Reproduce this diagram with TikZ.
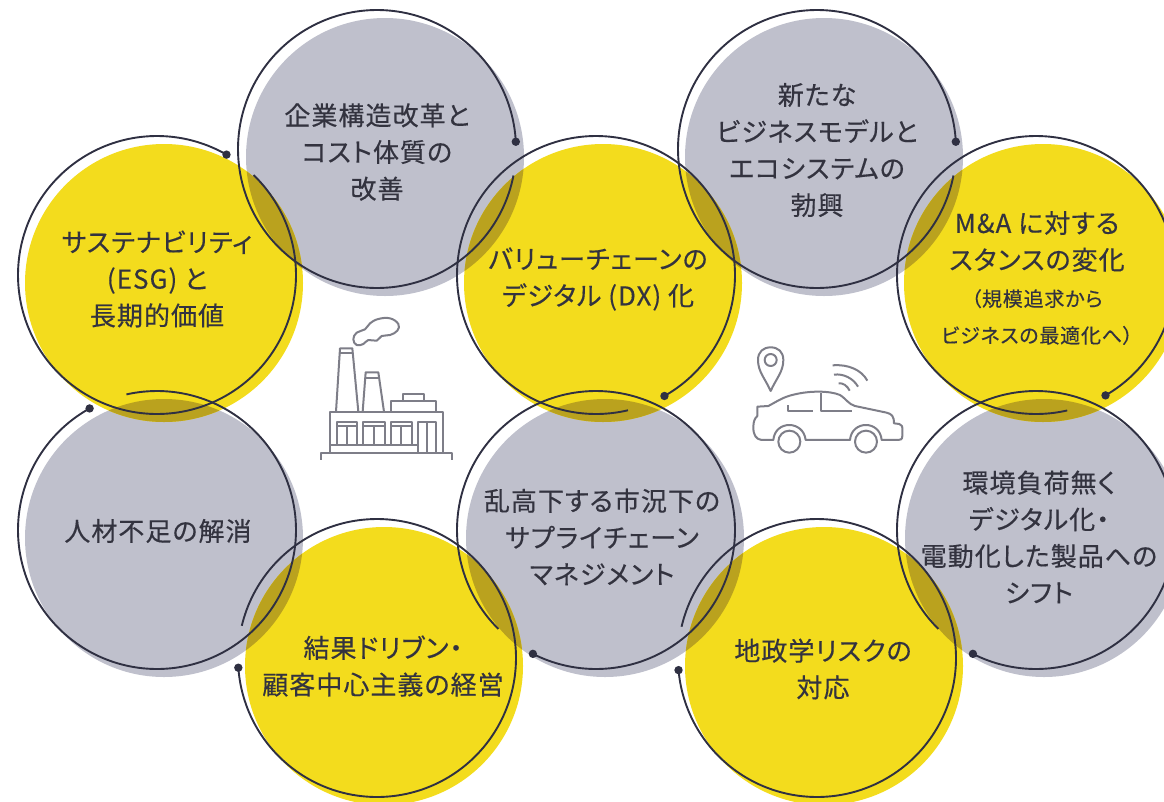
\documentclass[tikz,border=0pt]{standalone}
\usepackage{fontspec}
\setmainfont{Noto Sans CJK JP}[RawFeature=+palt,FakeBold=0.4,LetterSpace=4]
\definecolor{greyfill}{HTML}{BFC0CC}
\definecolor{yellowfill}{HTML}{F3DC1D}
\definecolor{lapfill}{HTML}{BAA21E}
\definecolor{ringline}{HTML}{2F3042}
\definecolor{iconline}{HTML}{7E7E88}
\definecolor{inktext}{HTML}{33333F}
\newcommand{\ringarc}[4]{%
  \draw[ringstroke] plot[domain=#3:#4,samples=200,smooth] ({#1+139*cos(\x)},{#2-139*sin(\x)});
  \fill[ringline] ({#1+139*cos(#3)},{#2-139*sin(#3)}) circle[radius=4.2pt];}
\newcommand{\lapzone}[2]{\begin{scope}\clip (#1) circle[radius=139pt];\fill[lapfill] (#2) circle[radius=139pt];\end{scope}}
\tikzset{
  ringstroke/.style={draw=ringline,line width=1.9pt},
  iconstroke/.style={draw=iconline,line width=2pt,line join=round},
  blurb/.style={text=inktext,align=center,inner sep=0pt,font=\fontsize{26}{36.7}\selectfont},
}
\newcommand{\smalltxt}{\fontsize{20}{36.7}\selectfont}
\begin{document}
\begin{tikzpicture}[x=1pt,y=-1pt]
\useasboundingbox (0,0) rectangle (1164,801);
\clip (0,0) rectangle (1164,801);
\coordinate (fa) at (385,157);
\coordinate (fb) at (164,283);
\coordinate (fc) at (603,283);
\coordinate (fd) at (824,157);
\coordinate (fe) at (1043,283);
\coordinate (ff) at (164,538);
\coordinate (fg) at (384,666);
\coordinate (fh) at (605,538);
\coordinate (fi) at (824,666);
\coordinate (fj) at (1044,538);
\foreach \c in {fa,fd,ff,fh,fj} \fill[greyfill] (\c) circle[radius=139pt];
\foreach \c in {fb,fc,fe,fg,fi} \fill[yellowfill] (\c) circle[radius=139pt];
\lapzone{fa}{fb}\lapzone{fa}{fc}\lapzone{fd}{fc}\lapzone{fd}{fe}
\lapzone{ff}{fb}\lapzone{ff}{fg}\lapzone{fh}{fg}\lapzone{fh}{fc}
\lapzone{fh}{fi}\lapzone{fj}{fi}\lapzone{fj}{fe}
% factory
\begin{scope}[iconstroke,shift={(310,310)},x=0.3333pt,y=-0.3333pt]
\draw (33,450) -- (33,430) -- (425,430) -- (425,450);
\draw (60,430) -- (60,305) -- (398,305) -- (398,430);
\draw (60,405) -- (325,405);
\foreach \l/\r in {80/140,160/225,243/305}{
  \draw (\l,405) -- (\l,335) -- (\r,335) -- (\r,405);
  \draw (\l,347) -- (\r,347);
  \draw ({(\l+\r)/2},347) -- ({(\l+\r)/2},405);
}
\draw (325,430) -- (325,335) -- (378,335) -- (378,430);
\draw (350,335) -- (350,430);
\draw (78,305) -- (90,115) -- (127,115) -- (145,305);
\draw (89,130) -- (128,130);
\draw (158,305) -- (167,187) -- (205,187) -- (222,305);
\draw (166,203) -- (207,203);
\draw (242,305) -- (242,272) -- (378,272) -- (378,305);
\draw (278,272) -- (278,252) -- (342,252) -- (342,272);
\draw plot[smooth cycle,tension=0.7] coordinates {(130,88) (140,68) (165,58) (180,40) (205,27) (240,25) (265,42) (262,62) (240,75) (215,78) (200,92) (175,90) (160,102) (140,105)};
\end{scope}
% car
\begin{scope}[iconstroke,shift={(740,340)},x=0.3333pt,y=-0.3333pt]
\draw (92,60) circle[radius=6pt];
\draw (92,153) .. controls (75,115) and (54,95) .. (54,60) .. controls (54,35) and (70,22) .. (92,22) .. controls (114,22) and (130,35) .. (130,60) .. controls (130,95) and (109,115) .. (92,153) -- cycle;
\draw (278,76) .. controls (325,72) and (365,90) .. (382,122);
\draw (282,104) .. controls (310,100) and (340,115) .. (354,140);
\draw (296,130) .. controls (310,128) and (322,138) .. (329,152);
\draw (52,200) -- (85,198) .. controls (110,185) and (130,170) .. (165,163) .. controls (210,152) and (270,152) .. (300,165) .. controls (320,178) and (325,192) .. (345,198) -- (440,218) .. controls (455,222) and (462,228) .. (462,250) -- (478,252) .. controls (487,254) and (487,260) .. (487,270) -- (487,288) .. controls (487,298) and (482,300) .. (475,300) -- (425,300) .. controls (420,240) and (335,240) .. (330,300) -- (197,300) .. controls (190,240) and (105,240) .. (100,300) -- (65,300) .. controls (48,298) and (40,285) .. (40,262) .. controls (40,245) and (44,235) .. (52,228) -- cycle;
\draw (143,195) -- (143,212) -- (220,212);
\draw (243,160) -- (243,212) -- (335,212);
\draw (148,305) circle[radius=11pt];
\draw (378,305) circle[radius=11pt];
\end{scope}
% rings
\ringarc{377}{149}{3}{349}
\ringarc{157}{275}{60}{406}
\ringarc{596}{275}{-60.5}{283.3}
\ringarc{817}{149}{3}{349}
\ringarc{1036}{275}{-60}{283}
\ringarc{157}{530}{119}{462.7}
\ringarc{377}{658}{184}{526.6}
\ringarc{596}{530}{243}{585.4}
\ringarc{817}{658}{185}{527}
\ringarc{1036}{530}{243}{585.4}
% texts
\node[blurb] (ta) at (377,152) {企業構造改革と\\コスト体質の\\改善};
\node[blurb] (tb) at (157,279) {サステナビリティ\\(ESG) と\\長期的価値};
\node[blurb] (tc) at (598,279) {バリューチェーンの\\デジタル (DX) 化};
\node[blurb] (td) at (817,150) {新たな\\ビジネスモデルと\\エコシステムの\\勃興};
\node[blurb] (te) at (1037,278) {M\&A に対する\\スタンスの変化\\{\smalltxt （規模追求から}\\{\smalltxt ビジネスの最適化へ）}};
\node[blurb] (tf) at (158,531) {人材不足の解消};
\node[blurb] (tg) at (383,666) {結果ドリブン・\\顧客中心主義の経営};
\node[blurb] (th) at (602,537) {乱高下する市況下の\\サプライチェーン\\マネジメント};
\node[blurb] (ti) at (823,669) {地政学リスクの\\対応};
\node[blurb] (tj) at (1039,537) {環境負荷無く\\デジタル化・\\電動化した製品への\\シフト};
\end{tikzpicture}
\end{document}
